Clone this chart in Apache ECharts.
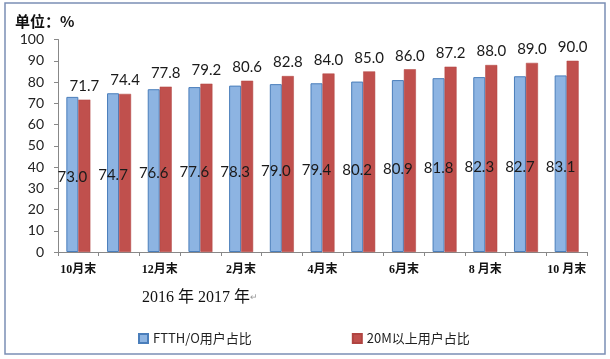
<!DOCTYPE html>
<html><head><meta charset="utf-8">
<script src="https://cdn.jsdelivr.net/npm/echarts@6/dist/echarts.min.js"></script>
<style>html,body{margin:0;padding:0;background:#fff}#c{width:610px;height:359px}</style>
</head><body><div id="c"></div>
<script>
var categories = ['10月末','11月末','12月末','1月末','2月末','3月末','4月末','5月末','6月末','7月末','8 月末','9月末','10 月末'];
var ftthValues = [73.0, 74.7, 76.6, 77.6, 78.3, 79.0, 79.4, 80.2, 80.9, 81.8, 82.3, 82.7, 83.1];
var m20Values = [71.7, 74.4, 77.8, 79.2, 80.6, 82.8, 84.0, 85.0, 86.0, 87.2, 88.0, 89.0, 90.0];
var seriesNames = ['FTTH/O用户占比', '20M以上用户占比'];
var yTicks = {min: 0, max: 100, interval: 10};
var unitText = '单位：%';
var yearText = '2016 年 2017 年';

var chart = echarts.init(document.getElementById('c'));
var cjk = '"Noto Sans CJK SC","Noto Sans",sans-serif';
var num = 'Lato,"Open Sans",sans-serif';
chart.setOption({
  animation: false,
  graphic: [
    {type: 'rect', shape: {x: 5, y: 3, width: 600, height: 351}, style: {fill: 'none', stroke: '#7b8fb5', lineWidth: 1.5}},
    {type: 'text', left: 15, top: 14, style: {text: unitText, font: 'bold 15px ' + cjk, fill: '#111'}},
    {type: 'text', left: 142, top: 290, style: {rich: {a: {font: '16px "Liberation Serif","Noto Sans CJK SC",serif', fill: '#111'}, b: {font: '9px sans-serif', fill: '#999'}}, text: '{a|' + yearText + '}{b|↵}'}}
  ],
  grid: {left: 58, right: 23, top: 39.5, bottom: 107, containLabel: false},
  legend: {
    left: 133, top: 327, itemWidth: 9, itemHeight: 9, itemGap: 100,
    icon: 'rect',
    textStyle: {fontFamily: cjk, fontSize: 13, color: '#222'},
    data: seriesNames
  },
  xAxis: {
    type: 'category', data: categories,
    axisLine: {lineStyle: {color: '#888', width: 1}},
    axisTick: {show: true, length: 4, alignWithLabel: false, interval: 0, lineStyle: {color: '#888'}},
    axisLabel: {interval: 1, margin: 12, fontFamily: '"Liberation Serif","Noto Sans CJK SC",serif', fontWeight: 'bold', fontSize: 12, color: '#111'}
  },
  yAxis: {
    type: 'value', min: yTicks.min, max: yTicks.max, interval: yTicks.interval,
    splitLine: {show: false},
    axisLine: {show: true, lineStyle: {color: '#888'}},
    axisTick: {show: true, length: 4, lineStyle: {color: '#888'}},
    axisLabel: {fontFamily: num, fontSize: 14, color: '#222', margin: 14}
  },
  series: [
    {name: seriesNames[0], type: 'bar', data: ftthValues, barWidth: 12, barGap: '0%',
      itemStyle: {color: '#8db4e2', borderColor: '#4a7ebb', borderWidth: 1},
      label: {show: true, position: 'inside', offset: [0, 3], formatter: function(p){return p.value.toFixed(1);}, fontFamily: num, fontSize: 15, color: '#1a1a1a'}},
    {name: seriesNames[1], type: 'bar', data: m20Values, barWidth: 12, barGap: '0%',
      itemStyle: {color: '#c0504d', borderColor: '#b04441', borderWidth: 0.5},
      label: {show: true, position: 'top', distance: 6, formatter: function(p){return p.value.toFixed(1);}, fontFamily: num, fontSize: 15, color: '#1a1a1a'}}
  ]
});
</script></body></html>
